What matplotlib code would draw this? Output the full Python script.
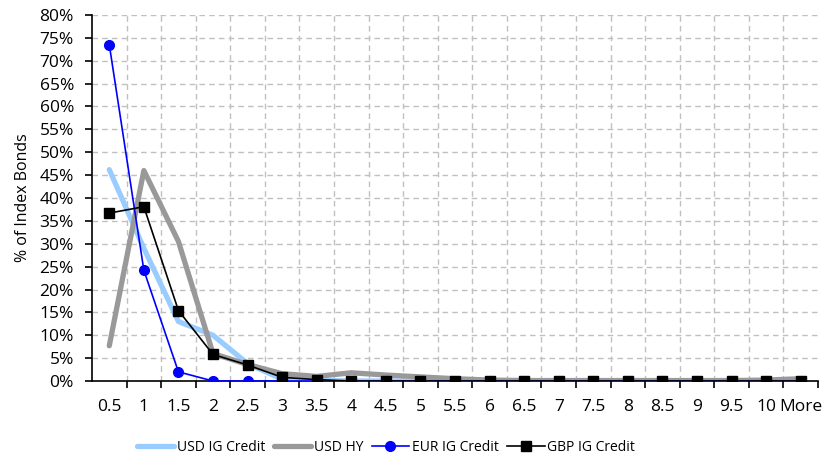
import matplotlib
matplotlib.use("Agg")
import matplotlib.pyplot as plt
from matplotlib.ticker import FixedLocator, FuncFormatter

categories = ["0.5", "1", "1.5", "2", "2.5", "3", "3.5", "4", "4.5", "5",
              "5.5", "6", "6.5", "7", "7.5", "8", "8.5", "9", "9.5", "10", "More"]

usd_ig = [46.2, 29.0, 13.0, 10.0, 3.8, 0.4, 0.1, 0.0, 0.0, 0.0,
          0.0, 0.0, 0.0, 0.0, 0.0, 0.0, 0.0, 0.0, 0.0, 0.0, 0.1]
usd_hy = [7.7, 46.0, 30.5, 6.0, 3.6, 1.6, 1.0, 1.8, 1.3, 0.9,
          0.5, 0.2, 0.1, 0.1, 0.1, 0.1, 0.1, 0.1, 0.1, 0.2, 0.5]
eur_ig = [73.5, 24.2, 2.0, 0.0, 0.0, 0.0, 0.0, 0.0, 0.0, 0.0,
          0.0, 0.0, 0.0, 0.0, 0.0, 0.0, 0.0, 0.0, 0.0, 0.0, 0.0]
gbp_ig = [36.7, 38.1, 15.4, 5.8, 3.5, 0.8, 0.3, 0.0, 0.0, 0.0,
          0.0, 0.0, 0.0, 0.0, 0.0, 0.0, 0.0, 0.0, 0.0, 0.0, 0.0]

plt.rcParams['font.family'] = ['Open Sans', 'DejaVu Sans']

fig = plt.figure(figsize=(8.23, 4.61), dpi=100)
ax = fig.add_axes([92 / 823, 80 / 461, (818 - 92) / 823, (446 - 80) / 461])

x = list(range(len(categories)))
ax.plot(x, usd_ig, color="#99ccff", lw=3.8, solid_capstyle="round", label="USD IG Credit", zorder=3)
ax.plot(x, usd_hy, color="#999999", lw=3.8, solid_capstyle="round", label="USD HY", zorder=3)
ax.plot(x, eur_ig, color="#0000ff", lw=1.2, marker="o", ms=7, label="EUR IG Credit", zorder=4)
ax.plot(x, gbp_ig, color="#000000", lw=1.2, marker="s", ms=7, label="GBP IG Credit", zorder=5)

ax.set_xlim(-0.5, len(categories) - 0.5)
ax.set_ylim(0, 80)

ax.set_xticks(x)
ax.set_xticklabels(categories)
ax.tick_params(axis="x", which="major", length=0, pad=13, labelsize=12.5)
ax.xaxis.set_minor_locator(FixedLocator([i + 0.5 for i in range(len(categories))]))
ax.tick_params(axis="x", which="minor", length=5, width=1.2, direction="out")

ax.set_yticks(range(0, 81, 5))
ax.yaxis.set_major_formatter(FuncFormatter(lambda v, p: f"{v:.0f}%"))
ax.tick_params(axis="y", length=5, width=1.2, direction="out", labelsize=12.5, pad=8)
ax.set_ylabel("% of Index Bonds", fontsize=11.5, labelpad=6)

for s in ["top", "right"]:
    ax.spines[s].set_visible(False)
for s in ["left", "bottom"]:
    ax.spines[s].set_linewidth(1.2)

# dashed grid at category boundaries and every 5%
for b in [i + 0.5 for i in range(len(categories) - 1)]:
    ax.axvline(b, color="#c0c0c0", lw=1, ls=(0, (4, 3)), zorder=1)
for v in range(5, 81, 5):
    ax.axhline(v, color="#c0c0c0", lw=1, ls=(0, (4, 3)), zorder=1)

leg = fig.legend(loc="center", bbox_to_anchor=(386 / 823, 14 / 461), ncol=4, frameon=False,
                 fontsize=10, handlelength=2.7, handletextpad=0.2, columnspacing=0.6)

fig.savefig("out.png", dpi=100)
